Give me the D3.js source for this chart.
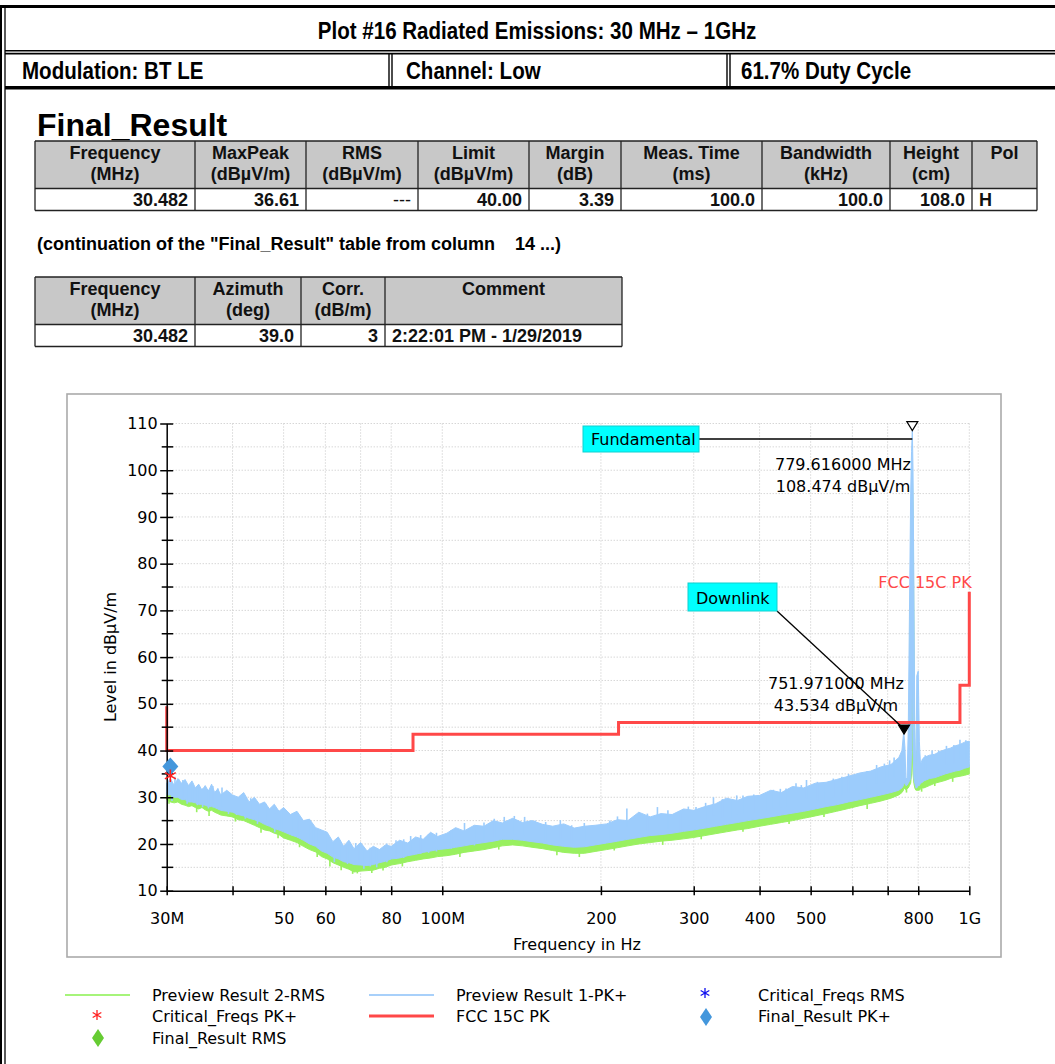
<!DOCTYPE html>
<html>
<head>
<meta charset="utf-8">
<script src="https://cdn.jsdelivr.net/npm/d3@7"></script>
<style>
  body { margin: 0; background: #fff; }
  svg { display: block; }
</style>
</head>
<body>
<div id="page"></div>
<script>
// ---- data ----
const freqMHz = [30, 30.5, 31, 31.5, 32, 32.5, 33, 33.5, 34, 34.5, 35, 35.5, 36, 36.5, 37, 37.5, 38, 39, 40,
    41, 42, 43, 44, 45, 46, 47, 48, 49, 50, 51.5, 53, 54.5, 56, 57.5, 59, 60.5, 62, 63.5, 65, 66.5, 68,
    70, 72, 74, 76, 78, 80, 83, 86, 89, 92, 95, 98, 102, 106, 110, 115, 120, 125, 130, 136, 142, 148,
    155, 162, 170, 178, 186, 195, 205, 215, 225, 236, 248, 260, 273, 287, 300, 315, 330, 346, 363, 380,
    400, 420, 440, 462, 485, 510, 535, 560, 590, 620, 650, 680, 710, 735, 745, 750, 752, 755, 758, 762,
    766, 770, 774, 777, 779.6, 782, 785, 788, 792, 795, 800, 804, 808, 815, 820, 840, 860, 880, 900,
    920, 940, 960, 980, 1000];
const pkMax = [33, 34, 32.5, 34, 33, 33.8, 32.5, 33.5, 32, 32.8, 31.5, 32.5, 31.3, 32.8, 31, 31.8, 30.5, 31.5, 30.5,
    30, 31, 29, 30, 28.5, 29, 27.5, 28.5, 27, 27.8, 26.3, 27, 25, 25.3, 23.5, 23, 22.5, 20.5, 21.5, 19.5, 20.8, 19,
    20.3, 18.5, 19.5, 18.8, 19.8, 19.5, 20.8, 20.2, 21.5, 21, 22.5, 21.6, 22.3, 23.5, 22.8, 24, 23.8, 25, 24.5, 25.5, 24.6, 25,
    24.2, 23.8, 24.3, 23.4, 23.8, 24, 24.3, 25.2, 25, 26.8, 25.8, 26.5, 26.3, 27.5, 27.2, 28, 28.6, 29.8, 29.3, 30.2,
    30.4, 31.5, 31, 32.3, 32, 33, 33.2, 33.8, 34.5, 35.2, 35.6, 36.5, 37, 38.5, 40, 43.5, 43.2, 40.5, 34, 34,
    45, 70, 95, 104, 108.5, 100, 75, 45, 34, 56, 57, 42, 37, 38.2, 38.5, 39, 39.2, 39.8, 40.2,
    40.5, 41, 41.3, 41.8, 42];
const pkMin = [30.5, 30.5, 30, 30, 29.5, 29.5, 29, 29, 28.8, 28.5, 28.5, 28.3, 28, 28, 27.8, 27.5, 27.2, 27, 26.8,
    26.3, 26, 25.5, 25.2, 24.8, 24.2, 23.8, 23.3, 23, 22.6, 22, 21.5, 20.8, 20, 19.5, 18.5, 18, 17.2, 16.8, 16.2, 16, 15.6,
    15.5, 15.4, 15.6, 16, 16.3, 16.8, 17, 17.5, 17.8, 18.2, 18.5, 18.8, 19, 19.3, 19.6, 20, 20.3, 20.6, 21, 21, 20.8, 20.5,
    20.2, 19.8, 19.5, 19.3, 19.4, 19.8, 20.2, 20.6, 21, 21.4, 21.8, 22, 22.3, 22.7, 23, 23.4, 23.8, 24.2, 24.6, 25,
    25.4, 25.8, 26.2, 26.6, 27, 27.5, 28, 28.4, 29, 29.5, 30, 30.5, 31, 31.5, 32, 32.5, 33, 33, 32.5, 32.6,
    33, 33.5, 34, 40, 60, 40, 34, 33, 32, 32, 32.5, 32.5, 33, 33.2, 33.5, 34, 34.2, 34.6, 35,
    35.3, 35.6, 35.8, 36.2, 36.5];
const rmsMax = [31, 31, 30.5, 30.5, 30, 30, 29.5, 29.5, 29.2, 29, 29, 28.8, 28.5, 28.5, 28.2, 28, 27.8, 27.5, 27.2,
    26.8, 26.5, 26, 25.5, 25, 24.5, 24.2, 23.8, 23.5, 23, 22.5, 22, 21.2, 20.5, 20, 19, 18.5, 17.8, 17.2, 16.8, 16.5, 16,
    16, 15.8, 16, 16.5, 16.8, 17.2, 17.5, 18, 18.3, 18.6, 19, 19.2, 19.5, 19.8, 20, 20.5, 20.8, 21, 21.4, 21.4, 21.2, 21,
    20.6, 20.3, 20, 19.8, 19.8, 20.2, 20.6, 21, 21.4, 21.8, 22.2, 22.4, 22.7, 23.1, 23.4, 23.8, 24.2, 24.6, 25, 25.4,
    25.8, 26.2, 26.6, 27, 27.4, 27.9, 28.4, 28.8, 29.4, 29.9, 30.4, 30.9, 31.4, 32, 32.5, 33, 33.5, 33.5, 33, 33,
    33.5, 50, 80, 96, 100, 92, 66, 40, 33, 40, 38, 34, 33.8, 34, 34, 34.5, 34.7, 35, 35.4,
    35.8, 36, 36.3, 36.6, 37];
const rmsMin = [29.5, 29, 28.8, 29, 28.5, 28.3, 28, 28.2, 27.8, 27.5, 27.8, 27.3, 27, 27.2, 26.8, 26.5, 26.2, 26, 25.8,
    25.2, 25, 24.5, 24, 23.5, 23, 22.8, 22.3, 22, 21.3, 20.8, 20.3, 19.5, 18.8, 18.3, 17.3, 16.8, 16, 15.5, 15, 14.6, 14,
    14.2, 14.3, 14.4, 14.8, 15, 15.5, 15.8, 16.2, 16.5, 16.8, 17, 17.3, 17.5, 17.8, 18.2, 18.5, 18.8, 19.2, 19.6, 19.8, 19.6, 19.3,
    19, 18.6, 18.2, 18, 18, 18.4, 18.8, 19.2, 19.6, 20, 20.3, 20.6, 20.8, 21.1, 21.4, 21.8, 22.2, 22.6, 23, 23.3,
    23.8, 24.2, 24.6, 25, 25.5, 26, 26.5, 27, 27.6, 28.2, 28.7, 29.2, 29.8, 30.5, 31, 31.5, 32, 31.8, 31.6, 31.8,
    32, 32.5, 33, 35, 40, 35, 33, 32, 31.5, 31.5, 31.5, 31.5, 31.8, 32, 32, 32.5, 33, 33.3, 33.6,
    34, 34.3, 34.5, 34.7, 35];

// narrow peaks that stick out of the PK band, and dips below the RMS band
const pkSpikeFreq = [30.7, 31.1, 31.6, 32.2, 32.8, 33.6, 34.3, 35.1, 36.0, 36.7, 37.5, 38.2, 39.3, 40.7, 42.3,
    43.3, 44.6, 46.3, 48.1, 49.5, 51.9, 53.2, 55.7, 57.0, 58.2, 60.2, 62.4, 64.0, 66.1, 68.5, 69.5, 71.0,
    73.0, 75.1, 78.5, 81.7, 84.5, 87.1, 91.0, 94.2, 97.5, 104, 110.2, 115.1, 120, 125.5, 131.1, 137, 143.3,
    150, 157.1, 167.5, 176, 186, 197, 208, 215, 224, 237, 245, 256, 268, 283, 293, 303, 316, 327, 340, 353,
    362, 372, 390, 411, 425, 438, 449, 469, 480, 491, 515, 532, 552, 573, 590, 621, 640, 667, 690, 706, 720,
    825, 850, 875, 905, 935, 960, 985];
const pkSpikeLevel = [33.2, 34.4, 33.9, 33.7, 32.6, 33.0, 32.3, 31.9, 31.6, 32.4, 31.9, 32.1, 30.4, 30.2, 29.4,
    29.8, 28.3, 28.6, 26.5, 27.2, 25.8, 25.4, 24.2, 23.6, 23.0, 22.4, 20.1, 20.8, 19.7, 20.2, 19.6, 18.7,
    19.2, 19.0, 20.1, 20.8, 21.0, 21.7, 21.9, 22.1, 22.4, 23.0, 24.5, 23.7, 24.6, 25.4, 25.8, 26.0, 25.8,
    25.0, 24.7, 25.1, 24.0, 24.5, 24.0, 25.0, 25.9, 27.6, 26.2, 26.5, 27.9, 27.2, 26.6, 28.0, 27.9, 28.8, 30.0, 29.6, 29.4,
    30.4, 30.4, 30.6, 30.9, 31.6, 31.8, 31.9, 33.0, 32.6, 33.7, 33.3, 32.6, 34.0, 34.4, 35.0, 34.7, 35.6, 36.9, 37.2, 37.9, 38.5,
    39.0, 40.0, 40.0, 41.0, 41.2, 42.3, 42.2];
const rmsDipFreq = [30.3, 34.2, 36.1, 40.5, 45.3, 48.8, 53.6, 57.9, 61.2, 64.3, 67.6, 69.0, 73.5, 77.2, 84,
    108, 128, 165, 182, 212, 262, 310, 372, 455, 530, 640, 760, 812, 860, 930];
const rmsDipLevel = [28.6, 26.8, 26.0, 24.8, 22.4, 21.2, 19.3, 17.2, 15.2, 14.4, 13.6, 13.7, 13.8, 14.3, 15.2,
    17.2, 18.8, 17.6, 17.2, 18.6, 19.8, 21.0, 22.6, 24.3, 25.8, 27.5, 31.0, 31.2, 32.4, 33.3];

const limitFreq = [30, 30, 88, 88, 216, 216, 960, 960, 1000, 1000];
const limitLevel = [49.5, 40, 40, 43.5, 43.5, 46, 46, 54, 54, 74];

const finalPkFreq = [30.482];
const finalPkLevel = [36.61];
const criticalPkFreq = [30.482];
const criticalPkLevel = [34.6];

const markerNames = ["Fundamental", "Downlink"];
const markerFreq = [779.616, 751.971];
const markerLevel = [108.474, 43.534];

const xTickValues = [30, 40, 50, 60, 70, 80, 100, 200, 300, 400, 500, 600, 700, 800, 1000];
const xTickLabels = { 30: "30M", 50: "50", 60: "60", 80: "80", 100: "100M", 200: "200",
                      300: "300", 400: "400", 500: "500", 800: "800", 1000: "1G" };
const yMajorTicks = [10, 20, 30, 40, 50, 60, 70, 80, 90, 100, 110];
const yMinorTicks = [15, 25, 35, 45, 55, 65, 75, 85, 95, 105];

const table1Headers = [["Frequency", "(MHz)"], ["MaxPeak", "(dBµV/m)"], ["RMS", "(dBµV/m)"], ["Limit", "(dBµV/m)"],
                       ["Margin", "(dB)"], ["Meas. Time", "(ms)"], ["Bandwidth", "(kHz)"], ["Height", "(cm)"], ["Pol", ""]];
const table1Row = ["30.482", "36.61", "---", "40.00", "3.39", "100.0", "100.0", "108.0", "H"];
const table2Headers = [["Frequency", "(MHz)"], ["Azimuth", "(deg)"], ["Corr.", "(dB/m)"], ["Comment", ""]];
const table2Row = ["30.482", "39.0", "3", "2:22:01 PM - 1/29/2019"];

// ---- page ----
const W = 1055, H = 1064;
const svg = d3.select("#page").append("svg").attr("width", W).attr("height", H);

const arial = "'Liberation Sans', Arial, sans-serif";
const chartFont = "'DejaVu Sans', Verdana, sans-serif";

// report frame
const frame = svg.append("g").attr("stroke", "#000").attr("fill", "none");
frame.append("line").attr("x1", 0).attr("x2", W).attr("y1", 6.5).attr("y2", 6.5).attr("stroke-width", 3);
frame.append("line").attr("x1", 1).attr("x2", 1).attr("y1", 5).attr("y2", H).attr("stroke-width", 2);
frame.append("line").attr("x1", 5).attr("x2", 5).attr("y1", 8).attr("y2", H).attr("stroke-width", 1.3);
frame.append("line").attr("x1", 5).attr("x2", W).attr("y1", 50.8).attr("y2", 50.8).attr("stroke-width", 1.6);
frame.append("line").attr("x1", 5).attr("x2", W).attr("y1", 53.6).attr("y2", 53.6).attr("stroke-width", 1.6);
frame.append("line").attr("x1", 5).attr("x2", W).attr("y1", 87.8).attr("y2", 87.8).attr("stroke-width", 3.4);
[389, 392, 727, 730].forEach(x =>
    frame.append("line").attr("x1", x).attr("x2", x).attr("y1", 54).attr("y2", 86).attr("stroke-width", 1.4));

// condensed bold heading text (no narrow font installed, so squeeze the regular one)
function narrowText(t, x, y, anchor) {
    svg.append("text").attr("transform", `translate(${x},${y}) scale(0.857,1)`)
       .attr("text-anchor", anchor).attr("font-family", arial).attr("font-weight", "bold")
       .attr("font-size", 24).text(t);
}
narrowText("Plot #16 Radiated Emissions: 30 MHz \u2013 1GHz", 537, 39, "middle");
narrowText("Modulation: BT LE", 22, 79, "start");
narrowText("Channel: Low", 406, 79, "start");
narrowText("61.7% Duty Cycle", 741, 79, "start");

svg.append("text").attr("x", 37).attr("y", 136)
   .attr("font-family", arial).attr("font-weight", "bold").attr("font-size", 32).text("Final_Result");
svg.append("text").attr("x", 37).attr("y", 250)
   .attr("font-family", arial).attr("font-weight", "bold").attr("font-size", 18)
   .attr("xml:space", "preserve")
   .text("(continuation of the \"Final_Result\" table from column    14 ...)");

function drawTable(cols, top, headers, row, leftAlignLast) {
    const g = svg.append("g").attr("font-family", arial).attr("font-weight", "bold")
                 .attr("font-size", 18).attr("fill", "#111");
    const mid = top + 47.5, bottom = top + 69.5;
    g.append("rect").attr("x", cols[0]).attr("y", top).attr("width", cols[cols.length - 1] - cols[0])
     .attr("height", mid - top).attr("fill", "#c8c8c8");
    g.append("rect").attr("x", cols[0]).attr("y", mid).attr("width", cols[cols.length - 1] - cols[0])
     .attr("height", bottom - mid).attr("fill", "#fff");
    headers.forEach((h, i) => {
        const cx = (cols[i] + cols[i + 1]) / 2;
        g.append("text").attr("x", cx).attr("y", top + 18).attr("text-anchor", "middle").text(h[0]);
        g.append("text").attr("x", cx).attr("y", top + 39).attr("text-anchor", "middle").text(h[1]);
    });
    row.forEach((v, i) => {
        const last = leftAlignLast && i === row.length - 1;
        g.append("text")
         .attr("x", last ? cols[i] + 7 : cols[i + 1] - 7)
         .attr("y", top + 65)
         .attr("text-anchor", last ? "start" : "end")
         .attr("font-weight", v === "---" ? "normal" : "bold")
         .text(v);
    });
    const lines = g.append("g").attr("stroke", "#222").attr("stroke-width", 1.3);
    [top, mid, bottom].forEach(y =>
        lines.append("line").attr("x1", cols[0]).attr("x2", cols[cols.length - 1]).attr("y1", y).attr("y2", y));
    cols.forEach(x =>
        lines.append("line").attr("x1", x).attr("x2", x).attr("y1", top).attr("y2", bottom));
}
drawTable([35, 195, 306, 418, 529, 621, 762, 890, 972, 1037], 141, table1Headers, table1Row, true);
drawTable([35, 195, 301, 385, 622], 277, table2Headers, table2Row, true);

// ---- chart ----
svg.append("rect").attr("x", 67).attr("y", 394).attr("width", 934).attr("height", 563)
   .attr("fill", "#fff").attr("stroke", "#aaa").attr("stroke-width", 1.6);

const x = d3.scaleLog().domain([30, 1000]).range([166.7, 969.3]);
const y = d3.scaleLinear().domain([10, 110]).range([890.7, 423.5]);

const chart = svg.append("g").attr("font-family", chartFont).attr("font-size", 16);

// grid
const grid = chart.append("g").attr("stroke", "#c4c4c4").attr("stroke-width", 1).attr("stroke-dasharray", "1,2");
xTickValues.slice(1).forEach(f =>
    grid.append("line").attr("x1", x(f)).attr("x2", x(f)).attr("y1", y(110)).attr("y2", y(10)));
yMajorTicks.concat(yMinorTicks).filter(v => v > 10).forEach(v =>
    grid.append("line").attr("x1", x(30)).attr("x2", x(1000)).attr("y1", y(v)).attr("y2", y(v)));

// traces
const rmsColor = "#99f060", pkColor = "#9cccfc";
const idx = d3.range(freqMHz.length);
const rmsArea = d3.area().x(i => x(freqMHz[i])).y0(i => y(rmsMin[i])).y1(i => y(rmsMax[i]));
const pkArea = d3.area().x(i => x(freqMHz[i])).y0(i => y(pkMin[i])).y1(i => y(pkMax[i]));
chart.append("path").datum(idx).attr("d", rmsArea)
     .attr("fill", rmsColor).attr("stroke", rmsColor).attr("stroke-width", 1);
chart.selectAll("line.dip").data(rmsDipFreq).enter().append("line").attr("class", "dip")
     .attr("x1", d => x(d)).attr("x2", d => x(d))
     .attr("y1", (d, i) => y(rmsDipLevel[i])).attr("y2", (d, i) => y(rmsDipLevel[i] + 3))
     .attr("stroke", rmsColor).attr("stroke-width", 1.6);
chart.append("path").datum(idx).attr("d", pkArea)
     .attr("fill", pkColor).attr("stroke", pkColor).attr("stroke-width", 1);
chart.selectAll("line.spike").data(pkSpikeFreq).enter().append("line").attr("class", "spike")
     .attr("x1", d => x(d)).attr("x2", d => x(d))
     .attr("y1", (d, i) => y(pkSpikeLevel[i])).attr("y2", (d, i) => y(pkSpikeLevel[i] - 4))
     .attr("stroke", pkColor).attr("stroke-width", 1.6);

// limit
const limitLine = d3.line().x(i => x(limitFreq[i])).y(i => y(limitLevel[i]));
chart.append("path").datum(d3.range(limitFreq.length)).attr("d", limitLine)
     .attr("fill", "none").attr("stroke", "#ff4848").attr("stroke-width", 3);
chart.append("text").attr("x", 925).attr("y", y(74) - 4).attr("text-anchor", "middle")
     .attr("fill", "#ff4848").text("FCC 15C PK");

// axes
const xAxis = d3.axisBottom(x).tickValues(xTickValues).tickSize(0)
                .tickFormat(d => xTickLabels[d] || "");
const xg = chart.append("g").attr("transform", `translate(0,${y(10)})`).call(xAxis);
xg.select(".domain").attr("stroke", "#000").attr("stroke-width", 1.5);
xg.selectAll(".tick text").attr("font-family", chartFont).attr("font-size", 16).attr("fill", "#000").attr("dy", "1.9em");
xg.selectAll(".tick").append("line").attr("y1", -4.5).attr("y2", 4.5).attr("stroke", "#000").attr("stroke-width", 1.5);

const yAxis = d3.axisLeft(y).tickValues(yMajorTicks).tickSize(0).tickPadding(9);
const yg = chart.append("g").attr("transform", `translate(${x(30)},0)`).call(yAxis);
yg.select(".domain").attr("stroke", "#000").attr("stroke-width", 1.5);
yg.selectAll(".tick text").attr("font-family", chartFont).attr("font-size", 16).attr("fill", "#000");
yg.selectAll(".tick").append("line").attr("x1", -6.5).attr("x2", 6.5).attr("stroke", "#000").attr("stroke-width", 1.5);
yMinorTicks.forEach(v =>
    yg.append("line").attr("x1", -5).attr("x2", 6.5).attr("y1", y(v)).attr("y2", y(v))
      .attr("stroke", "#000").attr("stroke-width", 1.5));

chart.append("text").attr("x", 577).attr("y", 950).attr("text-anchor", "middle").text("Frequency in Hz");
chart.append("text").attr("transform", "translate(116,657) rotate(-90)").attr("text-anchor", "middle")
     .text("Level in dBµV/m");

// result markers
const diamond = (cx, cy, w, h) => `M${cx},${cy - h}L${cx + w},${cy}L${cx},${cy + h}L${cx - w},${cy}Z`;
finalPkFreq.forEach((f, i) =>
    chart.append("path").attr("d", diamond(x(f), y(finalPkLevel[i]), 8, 9)).attr("fill", "#4497dc"));
const star = d3.symbol().type(d3.symbolAsterisk).size(110);
criticalPkFreq.forEach((f, i) =>
    chart.append("path").attr("d", star()).attr("transform", `translate(${x(f)},${y(criticalPkLevel[i])})`)
         .attr("fill", "none").attr("stroke", "#ff2020").attr("stroke-width", 1.5));

// annotations
function annotate(i, boxX, boxY, boxW, openTri, textCx, textY) {
    const px = x(markerFreq[i]), py = y(markerLevel[i]);
    const g = chart.append("g");
    const tri = `M${px - 5.5},${py - 9}L${px + 5.5},${py - 9}L${px},${py}Z`;
    if (openTri) {
        g.append("line").attr("x1", boxX + boxW).attr("x2", px).attr("y1", boxY + 13).attr("y2", boxY + 13)
         .attr("stroke", "#000").attr("stroke-width", 1.3);
    } else {
        g.append("line").attr("x1", boxX + boxW).attr("x2", px - 1).attr("y1", boxY + 28).attr("y2", py - 6)
         .attr("stroke", "#000").attr("stroke-width", 1.3);
    }
    g.append("path").attr("d", tri).attr("fill", openTri ? "#fff" : "#000").attr("stroke", "#000").attr("stroke-width", 1.2);
    g.append("rect").attr("x", boxX).attr("y", boxY).attr("width", boxW).attr("height", openTri ? 26 : 28)
     .attr("fill", "#00ffff").attr("stroke", "#10d0d0").attr("stroke-width", 1);
    g.append("text").attr("x", boxX + 8).attr("y", boxY + (openTri ? 19 : 21)).text(markerNames[i]);
    g.append("text").attr("x", textCx).attr("y", textY).attr("text-anchor", "middle")
     .text(markerFreq[i].toFixed(6) + " MHz");
    g.append("text").attr("x", textCx).attr("y", textY + 22).attr("text-anchor", "middle")
     .text(markerLevel[i].toFixed(3) + " dBµV/m");
}
annotate(0, 583, 426, 116, true, 843, 470);
annotate(1, 688, 583, 89, false, 836, 689);

// legend
const legend = chart.append("g");
const legendText = [["Preview Result 2-RMS", 152, 995], ["Preview Result 1-PK+", 456, 995], ["Critical_Freqs RMS", 758, 995],
                    ["Critical_Freqs PK+", 152, 1016], ["FCC 15C PK", 456, 1016], ["Final_Result PK+", 758, 1016],
                    ["Final_Result RMS", 152, 1038]];
legendText.forEach(([t, lx, ly]) => legend.append("text").attr("x", lx).attr("y", ly + 6).text(t));
legend.append("line").attr("x1", 65).attr("x2", 130).attr("y1", 995).attr("y2", 995).attr("stroke", "#a6f47a").attr("stroke-width", 2);
legend.append("line").attr("x1", 369).attr("x2", 434).attr("y1", 995).attr("y2", 995).attr("stroke", "#a8d0fa").attr("stroke-width", 2);
legend.append("line").attr("x1", 369).attr("x2", 434).attr("y1", 1016).attr("y2", 1016).attr("stroke", "#ff4848").attr("stroke-width", 3);
legend.append("path").attr("d", d3.symbol().type(d3.symbolAsterisk).size(70)()).attr("transform", "translate(705,993)")
      .attr("fill", "none").attr("stroke", "#1010ee").attr("stroke-width", 1.3);
legend.append("path").attr("d", d3.symbol().type(d3.symbolAsterisk).size(70)()).attr("transform", "translate(97,1015)")
      .attr("fill", "none").attr("stroke", "#ff2020").attr("stroke-width", 1.3);
legend.append("path").attr("d", diamond(706, 1017, 6, 9)).attr("fill", "#4497dc");
legend.append("path").attr("d", diamond(98, 1038, 6, 9)).attr("fill", "#66cc33");
</script>
</body>
</html>
